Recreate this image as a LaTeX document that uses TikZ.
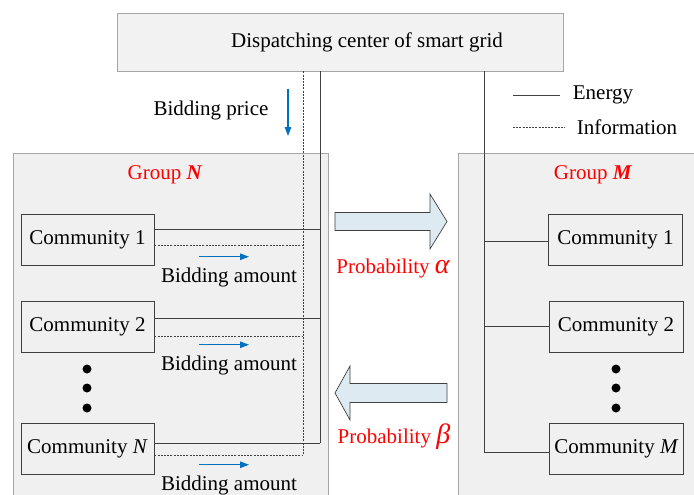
\documentclass[tikz,border=0pt]{standalone}
\usepackage{fontspec}
\setmainfont{Liberation Serif}
\usetikzlibrary{arrows.meta}
\definecolor{linegray}{HTML}{404040}
\definecolor{boxgray}{HTML}{F0F0F0}
\definecolor{edgegray}{HTML}{A6A6A6}
\definecolor{arrowblue}{HTML}{DDEAF2}
\definecolor{smallblue}{RGB}{0,112,192}
\begin{document}
\begin{tikzpicture}[x=1pt,y=-1pt,
  font=\fontsize{21}{24}\selectfont,
  txt/.style={inner sep=0pt, anchor=center},
  groupbox/.style={draw=edgegray, fill=boxgray, line width=0.8pt, inner sep=0pt},
  topbox/.style={draw=edgegray, fill=boxgray!90!white, line width=0.8pt, inner sep=0pt, minimum width=446pt, minimum height=58pt},
  commbox/.style={draw=linegray, line width=0.8pt, inner sep=0pt, minimum width=133pt, minimum height=51pt},
  energy/.style={draw=linegray, line width=0.8pt},
  info/.style={draw=linegray, line width=0.7pt, dash pattern=on 2pt off 1.2pt},
  bluearrow/.style={draw=smallblue, line width=1.2pt, -{Triangle[length=9pt,width=6.5pt]}},
  bigarrow/.style={draw=linegray, fill=arrowblue, line width=0.7pt, line join=miter},
  redtxt/.style={txt, text=red},
  dot/.style={circle, fill=black, inner sep=0pt, minimum size=9pt}
]
\useasboundingbox (0,0) rectangle (694,495);
\clip (0,0) rectangle (694,495);

% group boxes
\node[groupbox, minimum width=315pt, minimum height=360pt] (gN) at (170.5,333) {};
\node[groupbox, minimum width=240pt, minimum height=360pt] (gM) at (578,333) {};

% top box
\node[topbox] (top) at (340,42) {};
\node[txt] (toptext) at (367,42) {Dispatching center of smart grid};

% group labels
\node[redtxt] (gNlab) at (165,175) {Group \textbf{\textit{N}}};
\node[redtxt] (gMlab) at (593,175) {Group \textbf{\textit{M}}};

% left communities
\node[commbox] (c1) at (87.5,239.5) {Community 1};
\node[commbox] (c2) at (87.5,326.5) {Community 2};
\node[commbox] (cN) at (87.5,448.5) {Community \textit{N}};
% right communities
\node[commbox, minimum width=134pt] (r1) at (615.5,239.5) {Community 1};
\node[commbox, minimum width=134pt] (r2) at (616,326.5) {Community 2};
\node[commbox, minimum width=134pt] (rM) at (616.5,448.5) {Community \textit{M}};

% dots
\node[dot] (dl1) at (87,369) {};
\node[dot] (dl2) at (87,388) {};
\node[dot] (dl3) at (87,408) {};
\node[dot] (dr1) at (616,369) {};
\node[dot] (dr2) at (616,388) {};
\node[dot] (dr3) at (616,408) {};

% bus coordinates
\coordinate (eNend) at (320,443);
\coordinate (iNend) at (303,455);
\coordinate (eMend) at (484,452);

% vertical buses
\draw[energy] (top.south -| eNend) -- (eNend);
\draw[info] (top.south -| iNend) -- (iNend);
\draw[energy] (top.south -| eMend) -- (eMend);

% left energy / info connectors
\draw[energy] (c1.east |- 0,229) -- (eNend |- 0,229);
\draw[info] (c1.east |- 0,245.5) -- (iNend |- 0,245.5);
\draw[energy] (c2.east |- 0,318) -- (eNend |- 0,318);
\draw[info] (c2.east |- 0,336) -- (iNend |- 0,336);
\draw[energy] (cN.east |- eNend) -- (eNend);
\draw[info] (cN.east |- iNend) -- (iNend);

% right energy connectors
\draw[energy] (eMend |- 0,241) -- (r1.west |- 0,241);
\draw[energy] (eMend |- 0,326) -- (r2.west |- 0,326);
\draw[energy] (eMend) -- (rM.west |- eMend);

% bidding price
\node[txt] (bp) at (211,110) {Bidding price};
\coordinate (bpa) at (288,89);
\coordinate (bpb) at (288,136);
\draw[bluearrow] (bpa) -- (bpb);

% bidding amounts
\node[txt] (ba1) at (229,277) {Bidding amount};
\node[txt] (ba2) at (229,365) {Bidding amount};
\node[txt] (ba3) at (229,485) {Bidding amount};
\draw[bluearrow] ([xshift=-30pt,yshift=10.5pt]ba1.north) -- ([xshift=20pt,yshift=10.5pt]ba1.north);
\draw[bluearrow] ([xshift=-30pt,yshift=10.5pt]ba2.north) -- ([xshift=20pt,yshift=10.5pt]ba2.north);
\draw[bluearrow] ([xshift=-30pt,yshift=10.5pt]ba3.north) -- ([xshift=20pt,yshift=10.5pt]ba3.north);

% big arrows
\draw[bigarrow] (335,212.5) -- (430,212.5) -- (430,194) -- (447,221.5) -- (430,249) -- (430,230.5) -- (335,230.5) -- cycle;
\draw[bigarrow] (447,383.5) -- (350,383.5) -- (350,366) -- (335,393) -- (350,420) -- (350,402.5) -- (447,402.5) -- cycle;
\node[redtxt] (pa) at (393,268) {Probability {\fontsize{28}{30}\selectfont\itshape α}};
\node[redtxt] (pb) at (394,437) {Probability {\fontsize{28}{30}\selectfont\itshape β}};

% legend
\coordinate (le1) at (513,95);
\coordinate (le2) at (560,95);
\coordinate (li1) at (513,127);
\coordinate (li2) at (565,127);
\draw[energy] (le1) -- (le2);
\draw[info] (li1) -- (li2);
\node[txt] (leg1) at (603,95) {Energy};
\node[txt] (leg2) at (627,127) {Information};
\end{tikzpicture}
\end{document}
